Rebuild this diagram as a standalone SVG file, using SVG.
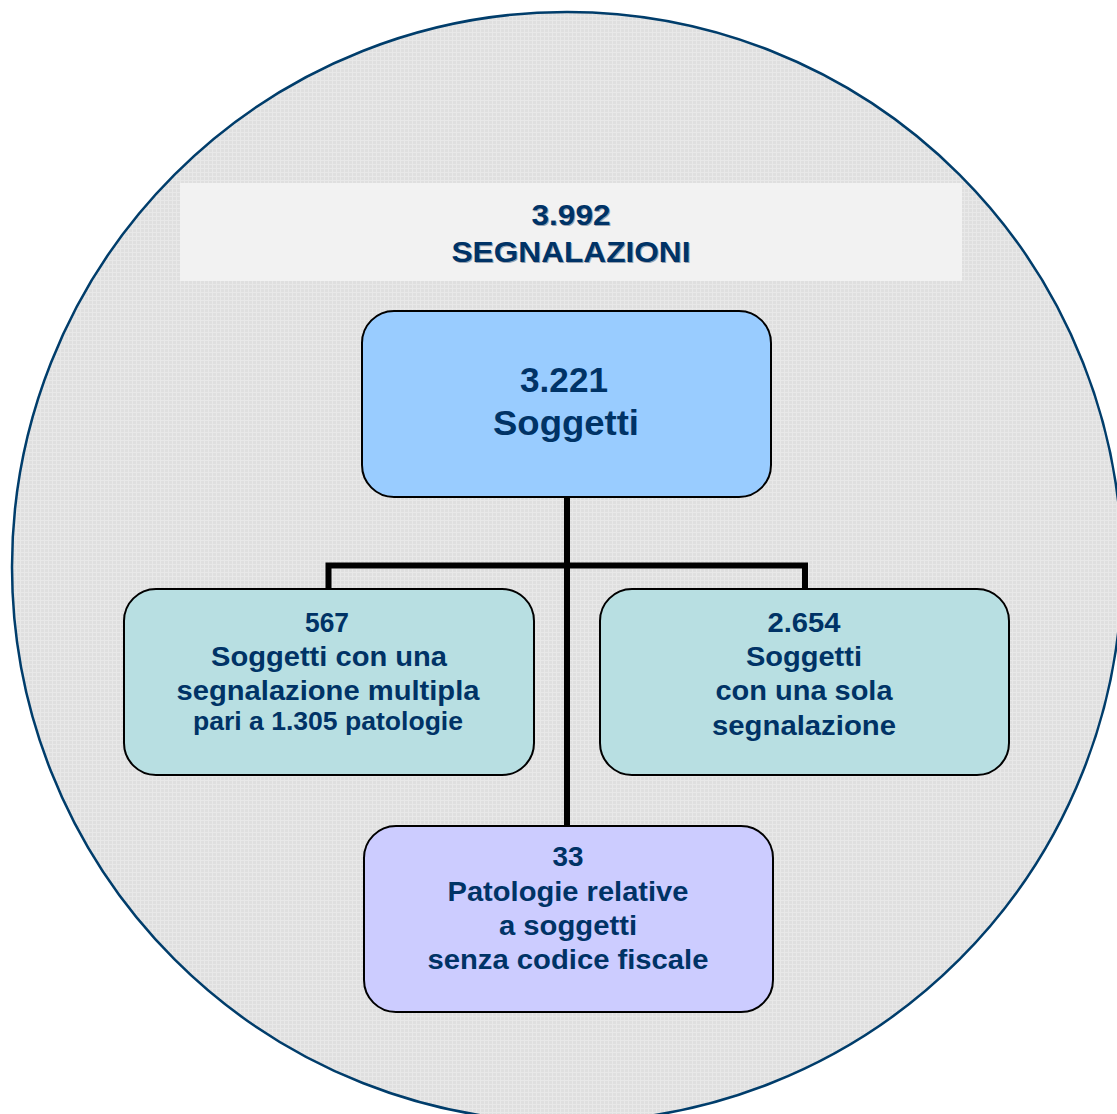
<svg xmlns="http://www.w3.org/2000/svg" width="1117" height="1114" viewBox="0 0 1117 1114">
<defs>
<pattern id="tex" width="4" height="4" patternUnits="userSpaceOnUse">
<rect width="4" height="4" fill="#dfdfdf"/>
<rect x="0" y="0" width="4" height="1" fill="#e8e8e8"/>
<rect x="0" y="0" width="1" height="4" fill="#e8e8e8"/>
</pattern>
</defs>
<style>
.t{font-family:"Liberation Sans",Arial,sans-serif;font-weight:bold;fill:#003366;text-anchor:middle}
.sh{fill:#9aa3b0}
.box{stroke:#000;stroke-width:2}
.con{stroke:#000;stroke-width:6;fill:none}
</style>
<rect width="1117" height="1114" fill="#fff"/>
<g id="background">
<circle cx="567" cy="567" r="555" fill="url(#tex)" stroke="#003d6b" stroke-width="2.5"/>
</g>
<g id="title">
<rect x="180" y="183" width="782" height="98" fill="#f2f2f2"/>
<text class="t sh" x="572" y="226" font-size="30" textLength="79" lengthAdjust="spacingAndGlyphs">3.992</text>
<text class="t sh" x="572" y="263" font-size="30" textLength="239" lengthAdjust="spacingAndGlyphs">SEGNALAZIONI</text>
<text class="t" x="571" y="225" font-size="30" textLength="79" lengthAdjust="spacingAndGlyphs">3.992</text>
<text class="t" x="571" y="262" font-size="30" textLength="239" lengthAdjust="spacingAndGlyphs">SEGNALAZIONI</text>
</g>
<g id="connectors">
<line class="con" x1="567" y1="497" x2="567" y2="826"/>
<polyline class="con" points="328.5,589 328.5,565.5 805,565.5 805,589"/>
</g>
<g id="node-soggetti">
<rect class="box" x="362" y="311" width="409" height="186" rx="32" fill="#99ccff"/>
<text class="t" x="564" y="392" font-size="35" textLength="88" lengthAdjust="spacingAndGlyphs">3.221</text>
<text class="t" x="566" y="435" font-size="35" textLength="146" lengthAdjust="spacingAndGlyphs">Soggetti</text>
</g>
<g id="node-multipla">
<rect class="box" x="124" y="589" width="410" height="186" rx="32" fill="#b8dfe2"/>
<text class="t" x="327" y="632" font-size="28" textLength="44" lengthAdjust="spacingAndGlyphs">567</text>
<text class="t" x="329" y="666" font-size="28" textLength="236" lengthAdjust="spacingAndGlyphs">Soggetti con una</text>
<text class="t" x="328" y="700" font-size="28" textLength="303" lengthAdjust="spacingAndGlyphs">segnalazione multipla</text>
<text class="t" x="328" y="730" font-size="26" textLength="270" lengthAdjust="spacingAndGlyphs">pari a 1.305 patologie</text>
</g>
<g id="node-sola">
<rect class="box" x="600" y="589" width="409" height="186" rx="32" fill="#b8dfe2"/>
<text class="t" x="804" y="632" font-size="28" textLength="73" lengthAdjust="spacingAndGlyphs">2.654</text>
<text class="t" x="804" y="666" font-size="28" textLength="116" lengthAdjust="spacingAndGlyphs">Soggetti</text>
<text class="t" x="804" y="700" font-size="28" textLength="177" lengthAdjust="spacingAndGlyphs">con una sola</text>
<text class="t" x="804" y="735" font-size="28" textLength="184" lengthAdjust="spacingAndGlyphs">segnalazione</text>
</g>
<g id="node-patologie">
<rect class="box" x="364" y="826" width="409" height="186" rx="32" fill="#ccccff"/>
<text class="t" x="568" y="866" font-size="28" textLength="31" lengthAdjust="spacingAndGlyphs">33</text>
<text class="t" x="568" y="901" font-size="28" textLength="241" lengthAdjust="spacingAndGlyphs">Patologie relative</text>
<text class="t" x="568" y="935" font-size="28" textLength="138" lengthAdjust="spacingAndGlyphs">a soggetti</text>
<text class="t" x="568" y="969" font-size="28" textLength="281" lengthAdjust="spacingAndGlyphs">senza codice fiscale</text>
</g>
</svg>
